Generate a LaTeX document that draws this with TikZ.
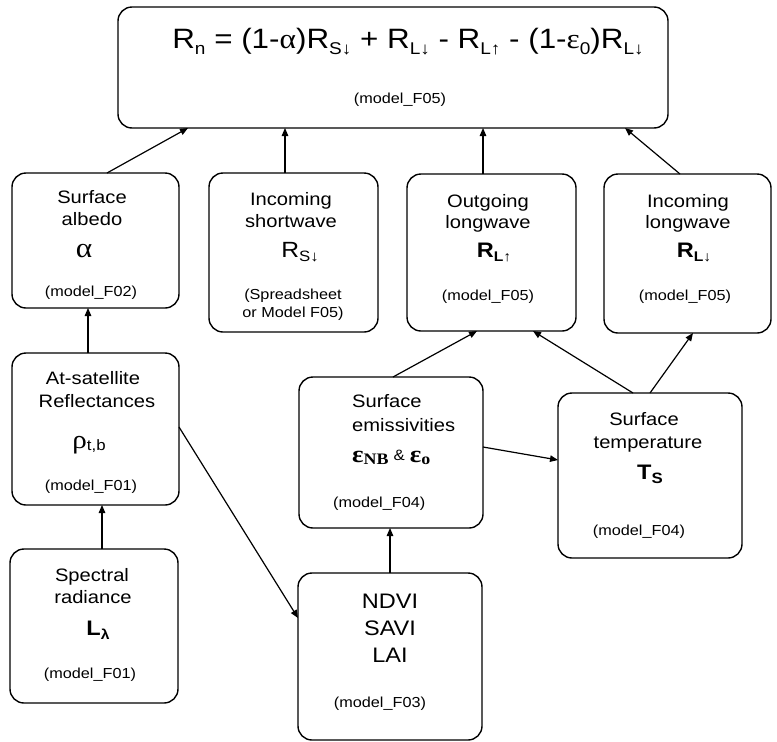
\documentclass[tikz,border=0pt]{standalone}
\usepackage{fontspec}
\setmainfont{Liberation Sans}[FakeStretch=1.12]
\newfontfamily\grk{Liberation Serif}[FakeStretch=1.12]
\usetikzlibrary{arrows.meta}
\newcommand\lowr[2]{\raisebox{-0.22em}{\fontsize{#1}{#1}\selectfont #2}}
\begin{document}
\begin{tikzpicture}[x=1pt,y=-1pt,
  box/.style={draw, line width=1.4pt, rounded corners=14pt, inner sep=0pt, outer sep=0pt},
  txt/.style={anchor=base, inner sep=0pt, font=\fontsize{18}{20}\selectfont},
  mdl/.style={anchor=base, inner sep=0pt, font=\fontsize{14.5}{16}\selectfont},
  big/.style={anchor=base, inner sep=0pt, font=\fontsize{21}{23}\selectfont},
  arr/.style={line width=1.2pt, -{Triangle[length=8pt,width=6.5pt]}}]
\useasboundingbox (0,0) rectangle (777,742);
\fill[white] (0,0) rectangle (777,742);

% boxes
\node[box, minimum width=550pt, minimum height=121pt] (top) at (393,67.5) {};
\node[box, minimum width=167pt, minimum height=135pt] (albedo) at (95.5,240.5) {};
\node[box, minimum width=169pt, minimum height=159pt] (sw) at (293.5,252.5) {};
\node[box, minimum width=169pt, minimum height=157pt] (lwout) at (491.5,252.5) {};
\node[box, minimum width=167pt, minimum height=159pt] (lwin) at (687.5,253.5) {};
\node[box, minimum width=167pt, minimum height=152pt] (refl) at (95.5,429) {};
\node[box, minimum width=184pt, minimum height=151pt] (emis) at (391,452.5) {};
\node[box, minimum width=184pt, minimum height=165pt] (temp) at (650,475.5) {};
\node[box, minimum width=168pt, minimum height=154pt] (rad) at (94,626) {};
\node[box, minimum width=184pt, minimum height=167pt] (ndvi) at (390,656.5) {};

% top formula
\node[anchor=base, inner sep=0pt, font=\fontsize{28}{30}\selectfont] (formula) at (408,48)
  {R\lowr{17}{n} = (1-{\grk α})R\lowr{17}{S↓} + R\lowr{17}{L↓} - R\lowr{17}{L↑} - (1-{\grk ε}\lowr{17}{0})R\lowr{17}{L↓}};
\node[mdl] (topm) at (400,103) {(model\_F05)};

% albedo
\node[txt] (al1) at (92,203) {Surface};
\node[txt] (al2) at (92,225) {albedo};
\node[anchor=base, inner sep=0pt, font=\fontsize{28}{30}\selectfont\grk] (al3) at (84,257) {α};
\node[mdl] (al4) at (91,296) {(model\_F02)};

% incoming shortwave
\node[txt] (sw1) at (291,205) {Incoming};
\node[txt] (sw2) at (291,227) {shortwave};
\node[big, font=\fontsize{22}{24}\selectfont] (sw3) at (300,257) {R\lowr{15}{S↓}};
\node[mdl] (sw4) at (293,299) {(Spreadsheet};
\node[mdl] (sw5) at (293,317) {or Model F05)};

% outgoing longwave
\node[txt] (lo1) at (488,207) {Outgoing};
\node[txt] (lo2) at (488,228) {longwave};
\node[big, font=\fontsize{21}{23}\selectfont\bfseries] (lo3) at (494,257) {R\lowr{14}{L↑}};
\node[mdl] (lo4) at (488,300) {(model\_F05)};

% incoming longwave
\node[txt] (li1) at (688,207) {Incoming};
\node[txt] (li2) at (688,228) {longwave};
\node[big, font=\fontsize{21}{23}\selectfont\bfseries] (li3) at (694,257) {R\lowr{14}{L↓}};
\node[mdl] (li4) at (685,300) {(model\_F05)};

% reflectances
\node[txt] (re1) at (93,384) {At-satellite};
\node[txt] (re2) at (97,407) {Reflectances};
\node[anchor=base, inner sep=0pt] (re3) at (89,448) {{\fontsize{26}{28}\selectfont\grk ρ}\lowr{15}{t,b}};
\node[mdl] (re4) at (91,490) {(model\_F01)};

% emissivities
\node[txt, anchor=base west] (em1) at (352,407) {Surface};
\node[txt, anchor=base west] (em2) at (352,431) {emissivities};
\node[anchor=base west, inner sep=0pt] (em3) at (352,462)
  {{\fontsize{24}{26}\selectfont\grk\bfseries ε}{\grk\bfseries\lowr{16}{NB}}\hspace{5pt}\raisebox{0.2em}{\fontsize{15}{16}\selectfont\&}\hspace{5pt}{\fontsize{24}{26}\selectfont\grk\bfseries ε}{\grk\bfseries\lowr{16}{o}}};
\node[mdl, anchor=base west] (em4) at (333,507) {(model\_F04)};

% temperature
\node[txt] (te1) at (644,425) {Surface};
\node[txt] (te2) at (648,448) {temperature};
\node[big, font=\fontsize{21}{23}\selectfont\bfseries] (te3) at (650,479) {T\lowr{15}{S}};
\node[mdl] (te4) at (639,535) {(model\_F04)};

% spectral radiance
\node[txt] (ra1) at (92,581) {Spectral};
\node[txt] (ra2) at (93,603) {radiance};
\node[big, font=\fontsize{21}{23}\selectfont\bfseries] (ra3) at (98,635) {L\lowr{14}{λ}};
\node[mdl] (ra4) at (90,678) {(model\_F01)};

% ndvi
\node[anchor=base, inner sep=0pt, font=\fontsize{21}{23}\selectfont] (nd1) at (390,608) {NDVI};
\node[anchor=base, inner sep=0pt, font=\fontsize{21}{23}\selectfont] (nd2) at (390,635) {SAVI};
\node[anchor=base, inner sep=0pt, font=\fontsize{21}{23}\selectfont] (nd3) at (390,662) {LAI};
\node[mdl] (nd4) at (380,707) {(model\_F03)};

% connectors
\draw[arr] ([xshift=11.5pt]albedo.north) -- ([xshift=-205pt]top.south);
\draw[arr] ([xshift=-8.5pt]sw.north) -- ([xshift=-8.5pt]sw.north |- top.south);
\draw[arr] ([xshift=-8.5pt]lwout.north) -- ([xshift=-8.5pt]lwout.north |- top.south);
\draw[arr] ([xshift=-7.5pt]lwin.north) -- ([xshift=232pt]top.south);
\draw[arr] ([xshift=-7.5pt]refl.north) -- ([xshift=-7.5pt]refl.north |- albedo.south);
\draw[arr] ([xshift=8pt]rad.north) -- ([xshift=8pt]rad.north |- refl.south);
\draw[arr] ([yshift=2pt]refl.east) -- ([yshift=38.5pt]ndvi.west);
\draw[arr] (ndvi.north) -- (ndvi.north |- emis.south);
\draw[arr] ([yshift=5.5pt]emis.east) -- ([yshift=15.5pt]temp.west);
\draw[arr] ([xshift=2pt]emis.north) -- ([xshift=-14.5pt]lwout.south);
\draw[arr] ([xshift=-17pt]temp.north) -- ([xshift=41.5pt]lwout.south);
\draw[arr] (temp.north) -- ([xshift=5.5pt]lwin.south);
\end{tikzpicture}
\end{document}
